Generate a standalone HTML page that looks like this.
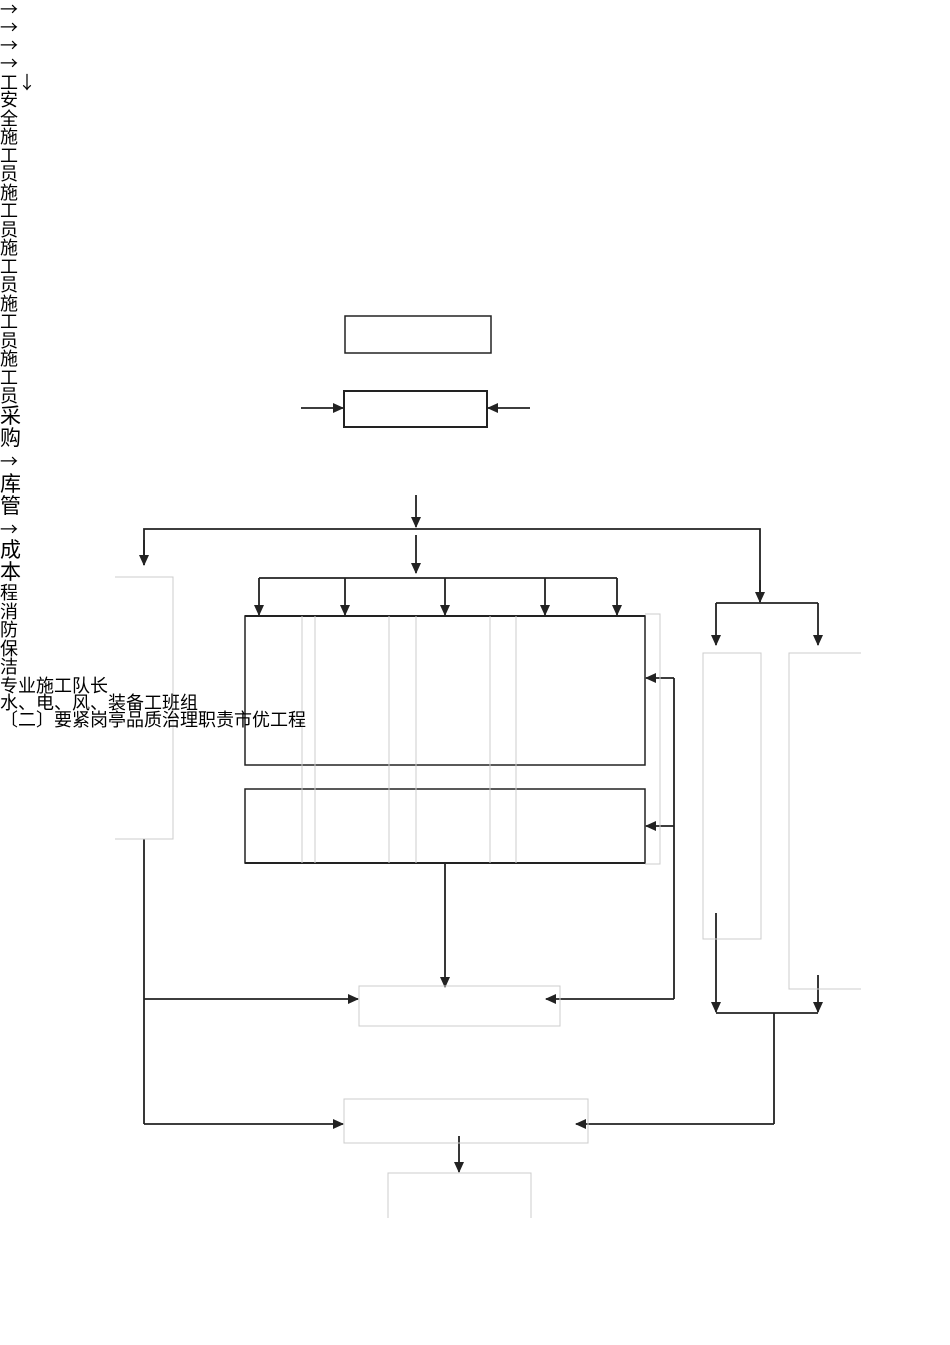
<!DOCTYPE html>
<html><head><meta charset="utf-8"><style>
body{margin:0;width:950px;height:1345px;background:#fff;position:relative;overflow:hidden;font-family:"Liberation Sans","Noto Sans CJK SC",sans-serif;color:#000}
.t{position:absolute;left:0;white-space:nowrap;line-height:1;font-size:18px}
.b{font-size:21px}
.r{font-family:"Noto Sans CJK SC",sans-serif;font-size:18px;line-height:1}
svg{position:absolute;left:0;top:0}
</style></head><body>
<svg width="950" height="1345" viewBox="0 0 950 1345">
<defs><marker id="a" markerWidth="11" markerHeight="10" refX="10" refY="5" orient="auto" markerUnits="userSpaceOnUse"><path d="M0,0 L11,5 L0,10z" fill="#222"/></marker></defs>
<g fill="none" stroke="#222" stroke-width="1.8">
<rect x="345" y="316" width="146" height="37" stroke-width="1.5"/>
<rect x="344" y="391" width="143" height="36" stroke-width="2"/>
<line x1="301" y1="408" x2="343" y2="408" marker-end="url(#a)"/>
<line x1="530" y1="408" x2="488" y2="408" marker-end="url(#a)"/>
<line x1="416" y1="495" x2="416" y2="527" marker-end="url(#a)"/>
<polyline points="144,565 144,529 760,529 760,602" />
<line x1="144" y1="540" x2="144" y2="565" marker-end="url(#a)"/>
<line x1="760" y1="580" x2="760" y2="602" marker-end="url(#a)"/>
<line x1="416" y1="535" x2="416" y2="573" marker-end="url(#a)"/>
<line x1="259" y1="578" x2="617" y2="578"/>
<line x1="259" y1="578" x2="259" y2="615" marker-end="url(#a)"/>
<line x1="345" y1="578" x2="345" y2="615" marker-end="url(#a)"/>
<line x1="445" y1="578" x2="445" y2="615" marker-end="url(#a)"/>
<line x1="545" y1="578" x2="545" y2="615" marker-end="url(#a)"/>
<line x1="617" y1="578" x2="617" y2="615" marker-end="url(#a)"/>
<rect x="245" y="616" width="400" height="149" stroke-width="1.5"/>
<rect x="245" y="789" width="400" height="74" stroke-width="1.5"/>
<line x1="245" y1="616" x2="645" y2="616" stroke-width="2"/>
<line x1="245" y1="863" x2="645" y2="863" stroke-width="2"/>
<polyline points="674,999 674,678"/>
<line x1="674" y1="678" x2="646" y2="678" marker-end="url(#a)"/>
<line x1="674" y1="826" x2="646" y2="826" marker-end="url(#a)"/>
<line x1="674" y1="999" x2="546" y2="999" marker-end="url(#a)"/>
<line x1="445" y1="863" x2="445" y2="987" marker-end="url(#a)"/>
<line x1="144" y1="839" x2="144" y2="1124"/>
<line x1="144" y1="999" x2="358" y2="999" marker-end="url(#a)"/>
<line x1="144" y1="1124" x2="343" y2="1124" marker-end="url(#a)"/>
<line x1="716" y1="603" x2="818" y2="603"/>
<line x1="716" y1="603" x2="716" y2="645" marker-end="url(#a)"/>
<line x1="818" y1="603" x2="818" y2="645" marker-end="url(#a)"/>
<line x1="716" y1="913" x2="716" y2="1012" marker-end="url(#a)"/>
<line x1="818" y1="975" x2="818" y2="1012" marker-end="url(#a)"/>
<line x1="716" y1="1013" x2="818" y2="1013"/>
<line x1="774" y1="1013" x2="774" y2="1124"/>
<line x1="774" y1="1124" x2="576" y2="1124" marker-end="url(#a)"/>
<line x1="459" y1="1136" x2="459" y2="1172" marker-end="url(#a)"/>
</g>
<g fill="none" stroke="#ccc" stroke-width="1">
<line x1="302" y1="616" x2="302" y2="863"/><line x1="315" y1="616" x2="315" y2="863"/>
<line x1="389" y1="616" x2="389" y2="863"/><line x1="416" y1="616" x2="416" y2="863"/>
<line x1="490" y1="616" x2="490" y2="863"/><line x1="516" y1="616" x2="516" y2="863"/>
<polyline points="645,614 660,614 660,864 645,864"/>
<polyline points="115,577 173,577 173,839 115,839"/>
<rect x="359" y="986" width="201" height="40"/>
<rect x="703" y="653" width="58" height="286"/>
<polyline points="861,653 789,653 789,989 861,989"/>
<rect x="344" y="1099" width="244" height="44"/>
<polyline points="388,1218 388,1173 531,1173 531,1218"/>
</g>
</svg>
<div class="t r" style="top:0">→</div>
<div class="t r" style="top:18px">→</div>
<div class="t r" style="top:36px">→</div>
<div class="t r" style="top:54px">→</div>
<div class="t" style="top:73px">工<span class="r">↓</span></div>
<div class="t" style="top:91px">安</div>
<div class="t" style="top:110px">全</div>
<div class="t" style="top:128px">施</div>
<div class="t" style="top:147px">工</div>
<div class="t" style="top:165px">员</div>
<div class="t" style="top:184px">施</div>
<div class="t" style="top:202px">工</div>
<div class="t" style="top:221px">员</div>
<div class="t" style="top:239px">施</div>
<div class="t" style="top:258px">工</div>
<div class="t" style="top:276px">员</div>
<div class="t" style="top:295px">施</div>
<div class="t" style="top:313px">工</div>
<div class="t" style="top:332px">员</div>
<div class="t" style="top:350px">施</div>
<div class="t" style="top:369px">工</div>
<div class="t" style="top:387px">员</div>
<div class="t b" style="top:406px">采</div>
<div class="t b" style="top:428px">购</div>
<div class="t r" style="top:452px">→</div>
<div class="t b" style="top:474px">库</div>
<div class="t b" style="top:496px">管</div>
<div class="t r" style="top:520px">→</div>
<div class="t b" style="top:540px">成</div>
<div class="t b" style="top:562px">本</div>
<div class="t" style="top:584px">程</div>
<div class="t" style="top:603px">消</div>
<div class="t" style="top:621px">防</div>
<div class="t" style="top:640px">保</div>
<div class="t" style="top:658px">洁</div>
<div class="t" style="top:677px">专业施工队长</div>
<div class="t" style="top:694px">水、电、风、装备工班组</div>
<div class="t" style="top:711px">〔二〕要紧岗亭品质治理职责市优工程</div>
</body></html>
